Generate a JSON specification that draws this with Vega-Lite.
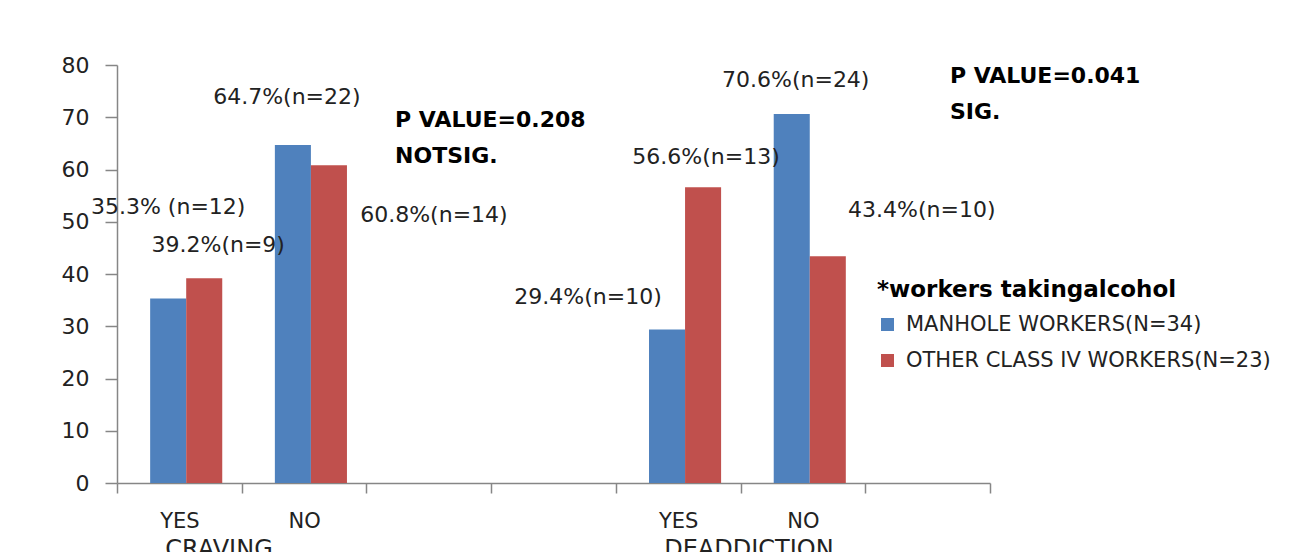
{
  "$schema": "https://vega.github.io/schema/vega-lite/v6.json",
  "width": 873,
  "height": 418,
  "autosize": {"type": "none"},
  "padding": {"left": 117, "top": 65, "right": 317, "bottom": 69},
  "background": "white",
  "config": {"view": {"stroke": null}, "font": "DejaVu Sans", "text": {"font": "DejaVu Sans"}},
  "datasets": {
    "bars": [
      {"slot": "CRAVING YES", "group": "MANHOLE WORKERS(N=34)", "value": 35.3, "label": "35.3% (n=12)"},
      {"slot": "CRAVING YES", "group": "OTHER CLASS IV WORKERS(N=23)", "value": 39.2, "label": "39.2%(n=9)"},
      {"slot": "CRAVING NO", "group": "MANHOLE WORKERS(N=34)", "value": 64.7, "label": "64.7%(n=22)"},
      {"slot": "CRAVING NO", "group": "OTHER CLASS IV WORKERS(N=23)", "value": 60.8, "label": "60.8%(n=14)"},
      {"slot": "DEADDICTION YES", "group": "MANHOLE WORKERS(N=34)", "value": 29.4, "label": "29.4%(n=10)"},
      {"slot": "DEADDICTION YES", "group": "OTHER CLASS IV WORKERS(N=23)", "value": 56.6, "label": "56.6%(n=13)"},
      {"slot": "DEADDICTION NO", "group": "MANHOLE WORKERS(N=34)", "value": 70.6, "label": "70.6%(n=24)"},
      {"slot": "DEADDICTION NO", "group": "OTHER CLASS IV WORKERS(N=23)", "value": 43.4, "label": "43.4%(n=10)"}
    ],
    "groups": [
      {"slot": "CRAVING YES", "name": "CRAVING"},
      {"slot": "DEADDICTION YES", "name": "DEADDICTION"}
    ],
    "pvalues": [
      {"slot": "CRAVING NO", "text": ["P VALUE=0.208", "NOTSIG."]},
      {"slot": "DEADDICTION NO", "text": ["P VALUE=0.041", "SIG."]}
    ]
  },
  "encoding": {
    "x": {
      "field": "slot",
      "type": "nominal",
      "title": null,
      "scale": {
        "domain": ["CRAVING YES", "CRAVING NO", "gap1", "gap2", "DEADDICTION YES", "DEADDICTION NO", "gap3"],
        "paddingInner": 0,
        "paddingOuter": 0
      },
      "axis": {
        "labelAngle": 0,
        "labelExpr": "test(/^gap/, datum.label) ? '' : split(datum.label, ' ')[1]",
        "labelFontSize": 21,
        "labelColor": "#222222",
        "labelPadding": 17,
        "tickBand": "extent",
        "tickSize": 10,
        "tickColor": "#868686",
        "domainColor": "#868686",
        "domainWidth": 1.5,
        "tickWidth": 1.5,
        "grid": false
      }
    }
  },
  "layer": [
    {
      "data": {"name": "bars"},
      "mark": {"type": "bar"},
      "encoding": {
        "xOffset": {
          "field": "group",
          "type": "nominal",
          "scale": {
            "domain": ["MANHOLE WORKERS(N=34)", "OTHER CLASS IV WORKERS(N=23)"],
            "paddingInner": 0,
            "paddingOuter": 0.73,
            "align": 0.63
          }
        },
        "y": {
          "field": "value",
          "type": "quantitative",
          "title": null,
          "scale": {"domain": [0, 80], "nice": false},
          "axis": {
            "values": [0, 10, 20, 30, 40, 50, 60, 70, 80],
            "labelFontSize": 22,
            "labelColor": "#222222",
            "labelPadding": 16,
            "tickSize": 12,
            "tickColor": "#868686",
            "domainColor": "#868686",
            "domainWidth": 1.5,
            "tickWidth": 1.5,
            "grid": false
          }
        },
        "color": {
          "field": "group",
          "type": "nominal",
          "scale": {
            "domain": ["MANHOLE WORKERS(N=34)", "OTHER CLASS IV WORKERS(N=23)"],
            "range": ["#4F81BD", "#C0504D"]
          },
          "legend": {
            "orient": "none",
            "legendX": 760,
            "legendY": 214,
            "title": "*workers takingalcohol",
            "titleFontSize": 23,
            "titleFontWeight": "bold",
            "titleColor": "#000000",
            "titleAnchor": "start",
            "titlePadding": 12,
            "titleLimit": 0,
            "labelFontSize": 21,
            "labelColor": "#222222",
            "labelOffset": 8,
            "labelLimit": 0,
            "symbolType": "square",
            "symbolSize": 169,
            "symbolStrokeWidth": 0,
            "rowPadding": 14
          }
        }
      }
    },
    {"data": {"name": "bars"}, "transform": [{"filter": "datum.label == '35.3% (n=12)'"}],
     "mark": {"type": "text", "fontSize": 22, "color": "#222222", "baseline": "middle", "dx": 0, "dy": -92},
     "encoding": {"xOffset": {"field": "group", "type": "nominal"}, "y": {"field": "value", "type": "quantitative"}, "text": {"field": "label"}}},
    {"data": {"name": "bars"}, "transform": [{"filter": "datum.label == '39.2%(n=9)'"}],
     "mark": {"type": "text", "fontSize": 22, "color": "#222222", "baseline": "middle", "dx": 14, "dy": -33},
     "encoding": {"xOffset": {"field": "group", "type": "nominal"}, "y": {"field": "value", "type": "quantitative"}, "text": {"field": "label"}}},
    {"data": {"name": "bars"}, "transform": [{"filter": "datum.label == '64.7%(n=22)'"}],
     "mark": {"type": "text", "fontSize": 22, "color": "#222222", "baseline": "middle", "dx": -6, "dy": -48},
     "encoding": {"xOffset": {"field": "group", "type": "nominal"}, "y": {"field": "value", "type": "quantitative"}, "text": {"field": "label"}}},
    {"data": {"name": "bars"}, "transform": [{"filter": "datum.label == '60.8%(n=14)'"}],
     "mark": {"type": "text", "fontSize": 22, "color": "#222222", "baseline": "middle", "dx": 105, "dy": 50},
     "encoding": {"xOffset": {"field": "group", "type": "nominal"}, "y": {"field": "value", "type": "quantitative"}, "text": {"field": "label"}}},
    {"data": {"name": "bars"}, "transform": [{"filter": "datum.label == '29.4%(n=10)'"}],
     "mark": {"type": "text", "fontSize": 22, "color": "#222222", "baseline": "middle", "dx": -79, "dy": -32},
     "encoding": {"xOffset": {"field": "group", "type": "nominal"}, "y": {"field": "value", "type": "quantitative"}, "text": {"field": "label"}}},
    {"data": {"name": "bars"}, "transform": [{"filter": "datum.label == '56.6%(n=13)'"}],
     "mark": {"type": "text", "fontSize": 22, "color": "#222222", "baseline": "middle", "dx": 3, "dy": -30},
     "encoding": {"xOffset": {"field": "group", "type": "nominal"}, "y": {"field": "value", "type": "quantitative"}, "text": {"field": "label"}}},
    {"data": {"name": "bars"}, "transform": [{"filter": "datum.label == '70.6%(n=24)'"}],
     "mark": {"type": "text", "fontSize": 22, "color": "#222222", "baseline": "middle", "dx": 4, "dy": -34},
     "encoding": {"xOffset": {"field": "group", "type": "nominal"}, "y": {"field": "value", "type": "quantitative"}, "text": {"field": "label"}}},
    {"data": {"name": "bars"}, "transform": [{"filter": "datum.label == '43.4%(n=10)'"}],
     "mark": {"type": "text", "fontSize": 22, "color": "#222222", "baseline": "middle", "dx": 94, "dy": -46},
     "encoding": {"xOffset": {"field": "group", "type": "nominal"}, "y": {"field": "value", "type": "quantitative"}, "text": {"field": "label"}}},
    {"data": {"name": "pvalues"}, "transform": [{"filter": "datum.slot == 'CRAVING NO'"}],
     "mark": {"type": "text", "fontSize": 22, "fontWeight": "bold", "color": "#000000", "align": "left", "baseline": "top", "lineHeight": 36, "dx": 91, "dy": 45},
     "encoding": {"y": {"datum": 80, "type": "quantitative"}, "text": {"field": "text"}}},
    {"data": {"name": "pvalues"}, "transform": [{"filter": "datum.slot == 'DEADDICTION NO'"}],
     "mark": {"type": "text", "fontSize": 22, "fontWeight": "bold", "color": "#000000", "align": "left", "baseline": "top", "lineHeight": 36, "dx": 147, "dy": 1},
     "encoding": {"y": {"datum": 80, "type": "quantitative"}, "text": {"field": "text"}}},
    {"data": {"name": "groups"},
     "mark": {"type": "text", "fontSize": 24, "color": "#222222", "align": "left", "baseline": "top", "dx": -14, "dy": 55},
     "encoding": {"y": {"datum": 0, "type": "quantitative"}, "text": {"field": "name"}}}
  ]
}
